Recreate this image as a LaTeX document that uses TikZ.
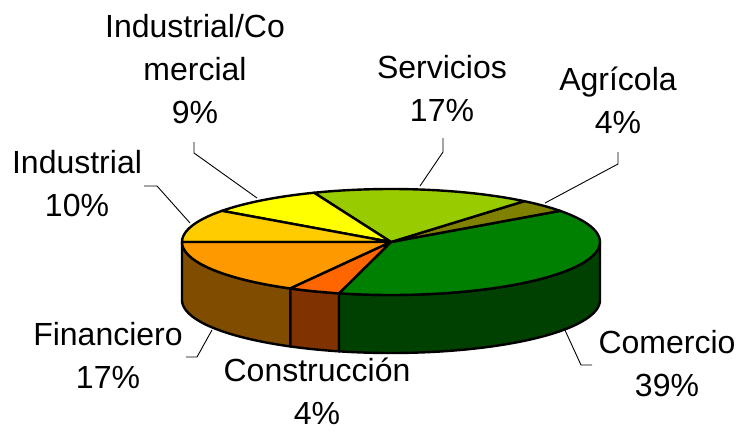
\documentclass[tikz,border=0pt]{standalone}
\usepackage{fontspec}
\setmainfont{Liberation Sans}
\usepackage{tikz}
\usetikzlibrary{positioning, calc}
\usepackage{xcolor}

% slice colours (top faces)
\definecolor{comerciotop}{RGB}{0,128,0}
\definecolor{agricolatop}{RGB}{128,128,0}
\definecolor{serviciostop}{RGB}{153,204,0}
\definecolor{indcomtop}{RGB}{255,255,0}
\definecolor{industrialtop}{RGB}{255,204,0}
\definecolor{financierotop}{RGB}{255,153,0}
\definecolor{construcciontop}{RGB}{255,102,0}
% slice colours (front walls)
\definecolor{comercioside}{RGB}{0,64,0}
\definecolor{financieroside}{RGB}{128,76,0}
\definecolor{construccionside}{RGB}{128,51,0}

% pie geometry (picture units = px of the reference)
\newcommand{\pcx}{391}
\newcommand{\pcy}{242}
\newcommand{\prx}{209}
\newcommand{\pry}{53}
\newcommand{\pdep}{58}

% top face of a slice between two angles
\newcommand{\pietop}[3]{%
  \filldraw[slicebox, fill=#3] (pc) -- plot[domain=#1:#2]
    ({\pcx+\prx*cos(\x)}, {\pcy-\pry*sin(\x)}) -- cycle;}
% front wall of a slice between two angles
\newcommand{\pieside}[3]{%
  \filldraw[slicebox, fill=#3] plot[domain=#1:#2]
    ({\pcx+\prx*cos(\x)}, {\pcy-\pry*sin(\x)}) -- plot[domain=#2:#1]
    ({\pcx+\prx*cos(\x)}, {\pcy+\pdep-\pry*sin(\x)}) -- cycle;}

\begin{document}
\begin{tikzpicture}[
    x=1pt, y=-1pt,
    % Slices
    slicebox/.style={draw=black, line width=2.4pt, line join=round, samples=60},
    % Labels and their leader lines
    lbl/.style={align=center, inner sep=0pt, font=\fontsize{32}{43}\selectfont},
    leader/.style={draw=black, line width=0.9pt},
]
\useasboundingbox (0,0) rectangle (737,432);

\coordinate (pc) at (\pcx,\pcy);

% Front walls
\pieside{180}{241.2}{financieroside}
\pieside{241.2}{255.6}{construccionside}
\pieside{255.6}{360}{comercioside}

% Top faces
\pietop{-104.4}{36}{comerciotop}
\pietop{36}{50.4}{agricolatop}
\pietop{50.4}{111.6}{serviciostop}
\pietop{111.6}{144}{indcomtop}
\pietop{144}{180}{industrialtop}
\pietop{180}{241.2}{financierotop}
\pietop{241.2}{255.6}{construcciontop}

% Labels
\node[lbl] (lblindcom) at (195,69) {Industrial/Co\\mercial\\9\%};
\node[lbl] (lblindustrial) at (77,184) {Industrial\\10\%};
\node[lbl] (lblservicios) at (442,88) {Servicios\\17\%};
\node[lbl] (lblagricola) at (618,100) {Agrícola\\4\%};
\node[lbl] (lblfinanciero) at (108,355) {Financiero\\17\%};
\node[lbl] (lblconstruccion) at (317,391) {Construcción\\4\%};
\node[lbl] (lblcomercio) at (667,364) {Comercio\\39\%};

% Leader line points
\coordinate (indcomA) at (194,142);
\coordinate (indcomB) at (194,153);
\coordinate (indcomC) at (257,198);
\coordinate (industrialA) at (144,186);
\coordinate (industrialB) at (157,186);
\coordinate (industrialC) at (190,223);
\coordinate (serviciosA) at (443,138);
\coordinate (serviciosB) at (443,152);
\coordinate (serviciosC) at (420,186);
\coordinate (agricolaA) at (618,152);
\coordinate (agricolaB) at (618,164);
\coordinate (agricolaC) at (545,203);
\coordinate (financieroA) at (186,357);
\coordinate (financieroB) at (197,357);
\coordinate (financieroC) at (212,330);
\coordinate (comercioA) at (592,365);
\coordinate (comercioB) at (581,365);
\coordinate (comercioC) at (564,328);

\draw[leader] (indcomA) -- (indcomB) -- (indcomC);
\draw[leader] (industrialA) -- (industrialB) -- (industrialC);
\draw[leader] (serviciosA) -- (serviciosB) -- (serviciosC);
\draw[leader] (agricolaA) -- (agricolaB) -- (agricolaC);
\draw[leader] (financieroA) -- (financieroB) -- (financieroC);
\draw[leader] (comercioA) -- (comercioB) -- (comercioC);

\end{tikzpicture}
\end{document}
